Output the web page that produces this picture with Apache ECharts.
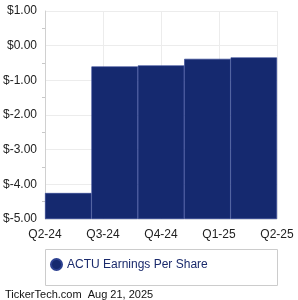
<!DOCTYPE html>
<html><head><meta charset="utf-8">
<script src="https://cdn.jsdelivr.net/npm/echarts@6/dist/echarts.min.js"></script>
<style>html,body{margin:0;padding:0;background:#fff}#c{width:298px;height:300px}</style>
</head><body><div id="c"></div>
<script>
var categories = ['Q2-24','Q3-24','Q4-24','Q1-25','Q2-25'];
var tickLabels = ['Q2-24','Q3-24','Q4-24','Q1-25','Q2-25'];
var eps = [-4.25, -0.60, -0.57, -0.38, -0.34];
var seriesName = 'ACTU Earnings Per Share';
var footer = 'TickerTech.com  Aug 21, 2025';
var yMin = -5, yMax = 1;

var chart = echarts.init(document.getElementById('c'), null, {renderer:'canvas'});
chart.setOption({
  animation: false,
  grid: {left: 45, right: 21, top: 11, bottom: 81, containLabel: false},
  legend: {
    left: 45, top: 253, itemWidth: 11, itemHeight: 11, itemGap: 4,
    icon: 'circle',
    textStyle: {fontFamily: 'Liberation Sans, Arial', fontSize: 12, color: '#1a2a6c'},
    data: [seriesName]
  },
  xAxis: [
    {type: 'category', data: categories, boundaryGap: true, show: false},
    {type: 'category', data: tickLabels, boundaryGap: false, position: 'bottom',
     axisLine: {show: false}, axisTick: {show: false},
     axisLabel: {fontFamily: 'Liberation Sans, Arial', fontSize: 12, color: '#222', margin: 10},
     splitLine: {show: true, lineStyle: {color: '#ececec', width: 1}}}
  ],
  yAxis: {
    type: 'value', min: 0, max: yMax - yMin, interval: 1,
    axisLine: {show: true, lineStyle: {color: '#d0d0d0'}},
    axisTick: {show: false},
    minorTick: {show: true, splitNumber: 2, length: 3, lineStyle: {color: '#c8c8c8'}},
    axisLabel: {fontFamily: 'Liberation Sans, Arial', fontSize: 12, color: '#222', margin: 8,
      formatter: function(v){ return '$' + (v + yMin).toFixed(2); }},
    splitLine: {show: true, lineStyle: {color: '#ececec'}}
  },
  series: [{
    name: seriesName, type: 'bar', xAxisIndex: 0,
    barCategoryGap: 0, barWidth: '100%',
    itemStyle: {color: '#15296f', borderColor: '#2c4090', borderWidth: 0.6},
    data: eps.map(function(v){ return v - yMin; })
  }],
  graphic: [
    {type: 'rect', shape: {x: 45.5, y: 249.5, width: 232, height: 36},
     style: {fill: 'none', stroke: '#cccccc', lineWidth: 1}, z: -1},
    {type: 'text', left: 5, top: 289,
     style: {text: footer, font: '11px "Liberation Sans", Arial', fill: '#111'}}
  ]
});
</script></body></html>
